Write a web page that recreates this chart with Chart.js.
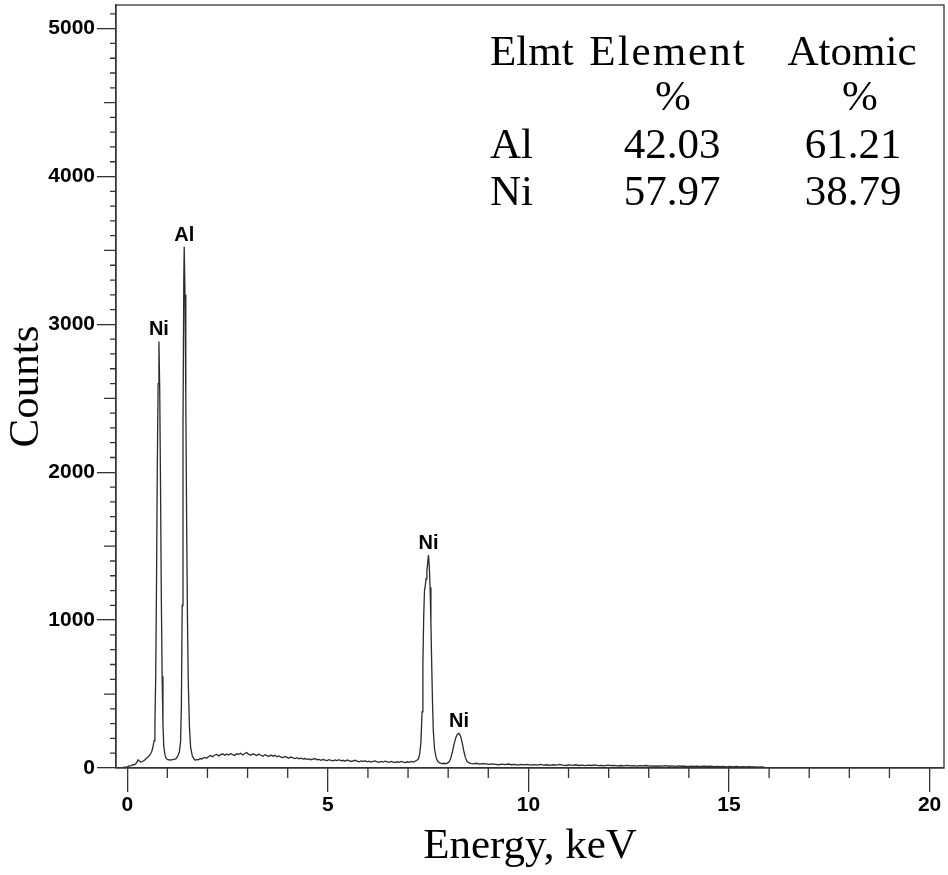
<!DOCTYPE html>
<html>
<head>
<meta charset="utf-8">
<title>EDS spectrum</title>
<script src="https://cdn.jsdelivr.net/npm/chart.js"></script>
<style>
  html, body { margin: 0; padding: 0; background: #fff; }
</style>
</head>
<body>
<canvas id="chart" width="948" height="875"></canvas>
<script>
// spectrum (keV, counts)
const energy = [
  -0.18, -0.12, -0.06, 0.00, 0.05, 0.10, 0.15, 0.20, 0.24, 0.27, 0.30, 0.34, 0.38, 0.43, 0.48, 0.53, 0.57, 0.61, 0.64, 0.67,
  0.69, 0.71, 0.73, 0.75, 0.77, 0.79, 0.81, 0.83, 0.85, 0.87, 0.89, 0.91, 0.94, 0.97, 1.01, 1.06, 1.11, 1.16, 1.21, 1.26,
  1.30, 1.33, 1.35, 1.37, 1.39, 1.41, 1.42, 1.44, 1.46, 1.48, 1.50, 1.52, 1.55, 1.58, 1.62, 1.66, 1.70, 1.74, 1.78, 1.82,
  1.86, 1.90, 1.94, 1.98, 2.03, 2.08, 2.13, 2.18, 2.23, 2.28, 2.33, 2.38, 2.43, 2.48, 2.53, 2.58, 2.63, 2.68, 2.73, 2.78,
  2.83, 2.88, 2.93, 2.98, 3.03, 3.08, 3.13, 3.18, 3.23, 3.28, 3.33, 3.38, 3.43, 3.48, 3.53, 3.58, 3.63, 3.68, 3.73, 3.78,
  3.83, 3.88, 3.93, 3.98, 4.03, 4.08, 4.13, 4.18, 4.23, 4.28, 4.33, 4.38, 4.43, 4.48, 4.53, 4.58, 4.63, 4.68, 4.73, 4.78,
  4.83, 4.88, 4.93, 4.98, 5.03, 5.08, 5.13, 5.18, 5.23, 5.28, 5.33, 5.38, 5.43, 5.48, 5.53, 5.58, 5.63, 5.68, 5.73, 5.78,
  5.83, 5.88, 5.93, 5.98, 6.03, 6.08, 6.13, 6.18, 6.23, 6.28, 6.33, 6.38, 6.43, 6.48, 6.53, 6.58, 6.63, 6.68, 6.73, 6.78,
  6.83, 6.88, 6.93, 6.98, 7.03, 7.08, 7.13, 7.18, 7.22, 7.26, 7.29, 7.32, 7.35, 7.37, 7.39, 7.41, 7.43, 7.45, 7.47, 7.49,
  7.51, 7.53, 7.55, 7.57, 7.59, 7.61, 7.63, 7.66, 7.70, 7.74, 7.79, 7.84, 7.89, 7.94, 7.99, 8.03, 8.07, 8.11, 8.15, 8.19,
  8.23, 8.27, 8.31, 8.35, 8.39, 8.43, 8.47, 8.52, 8.57, 8.63, 8.70, 8.78, 8.86, 8.94, 9.02, 9.10, 9.18, 9.26, 9.34, 9.42,
  9.50, 9.58, 9.66, 9.74, 9.82, 9.90, 9.98, 10.06, 10.14, 10.22, 10.30, 10.38, 10.46, 10.54, 10.62, 10.70, 10.78, 10.86, 10.94, 11.02,
  11.10, 11.18, 11.26, 11.34, 11.42, 11.50, 11.58, 11.66, 11.74, 11.82, 11.90, 11.98, 12.06, 12.14, 12.22, 12.30, 12.38, 12.46, 12.54, 12.62,
  12.70, 12.78, 12.86, 12.94, 13.02, 13.10, 13.18, 13.26, 13.34, 13.42, 13.50, 13.58, 13.66, 13.74, 13.82, 13.90, 13.98, 14.06, 14.14, 14.22,
  14.30, 14.38, 14.46, 14.54, 14.62, 14.70, 14.78, 14.86, 14.94, 15.02, 15.10, 15.18, 15.26, 15.34, 15.42, 15.50, 15.58, 15.66, 15.74, 15.82,
  15.88
];
const counts = [
  0, 3, 6, 8, 14, 16, 22, 24, 38, 55, 48, 40, 44, 52, 66, 78, 90, 112, 140, 185,
  290, 620, 1250, 2050, 2600, 2885, 2550, 1900, 1150, 620, 300, 150, 90, 65, 56, 54, 55, 58, 62, 80,
  110, 180, 420, 1100, 2300, 3300, 3525, 3200, 2500, 1700, 1050, 600, 280, 140, 85, 62, 52, 58, 55, 64,
  60, 68, 72, 66, 78, 84, 76, 88, 92, 82, 90, 96, 86, 94, 88, 98, 90, 84, 96, 92,
  100, 88, 98, 104, 92, 86, 96, 90, 84, 94, 86, 80, 90, 84, 78, 88, 80, 86, 76, 82,
  74, 70, 78, 72, 66, 74, 68, 64, 70, 62, 66, 60, 64, 58, 62, 56, 60, 64, 56, 58,
  52, 58, 54, 50, 56, 52, 48, 54, 50, 56, 48, 52, 46, 54, 50, 44, 48, 52, 46, 42,
  48, 44, 50, 42, 46, 40, 44, 48, 42, 38, 44, 40, 46, 42, 38, 44, 40, 36, 42, 38,
  44, 40, 36, 42, 38, 44, 40, 46, 52, 62, 95, 170, 380, 700, 1020, 1200, 1235, 1280, 1330, 1390,
  1440, 1360, 1220, 980, 700, 440, 250, 130, 70, 45, 34, 30, 32, 29, 34, 44, 70, 115, 165, 205,
  228, 234, 215, 170, 115, 70, 45, 34, 30, 28, 32, 26, 30, 28, 24, 28, 25, 22, 26, 23,
  27, 22, 25, 20, 24, 21, 25, 20, 23, 19, 24, 20, 22, 18, 22, 19, 24, 20, 17, 21,
  18, 22, 17, 20, 16, 19, 17, 21, 16, 18, 15, 19, 16, 18, 14, 17, 15, 18, 14, 16,
  13, 16, 14, 17, 13, 15, 12, 15, 13, 16, 12, 14, 11, 14, 12, 13, 10, 13, 11, 13,
  10, 12, 10, 12, 9, 11, 9, 11, 8, 10, 8, 10, 8, 9, 7, 9, 7, 8, 6, 7,
  6
];

// peak labels
const peakNames = ['Ni', 'Al', 'Ni', 'Ni'];
const peakEnergy = [0.79, 1.42, 7.51, 8.27];
const peakCounts = [2885, 3525, 1440, 234];

// quantification table
const tableHead = ['Elmt', 'Element', 'Atomic'];
const tableUnit = ['', '%', '%'];
const tableElements = ['Al', 'Ni'];
const elementPct = ['42.03', '57.97'];
const atomicPct = ['61.21', '38.79'];

// axis ticks
const xTicks = [0, 5, 10, 15, 20];
const yTicks = [0, 1000, 2000, 3000, 4000, 5000];

const INK = '#333';
const SERIF = "'Liberation Serif', 'Times New Roman', serif";
const SANS = "'Liberation Sans', Arial, sans-serif";

// minor ticks + closed frame
const framePlugin = {
  id: 'frame',
  afterDraw(chart) {
    const { ctx, chartArea: a, scales: { x, y } } = chart;
    ctx.save();
    ctx.strokeStyle = INK;
    ctx.lineWidth = 1.3;
    ctx.beginPath();
    for (let v = 1; v < 20; v++) {
      if (v % 5 === 0) continue;
      const px = x.getPixelForValue(v);
      ctx.moveTo(px, a.bottom);
      ctx.lineTo(px, a.bottom + 10);
    }
    for (let v = 100; v < 5160; v += 100) {
      if (v % 1000 === 0) continue;
      const len = v % 500 === 0 ? 12 : 6;
      const py = y.getPixelForValue(v);
      ctx.moveTo(a.left - len, py);
      ctx.lineTo(a.left, py);
    }
    ctx.stroke();
    ctx.strokeRect(a.left, a.top, a.right - a.left, a.bottom - a.top);
    ctx.restore();
  }
};

// peak names and the results table
const textPlugin = {
  id: 'texts',
  afterDatasetsDraw(chart) {
    const { ctx, scales: { x, y } } = chart;
    ctx.save();
    ctx.fillStyle = '#000';
    ctx.textAlign = 'center';
    ctx.textBaseline = 'alphabetic';
    ctx.font = 'bold 20px ' + SANS;
    peakNames.forEach((name, i) => {
      ctx.fillText(name, x.getPixelForValue(peakEnergy[i]), y.getPixelForValue(peakCounts[i]) - 6);
    });

    ctx.font = '43px ' + SERIF;
    const colX = [490, 668, 852];
    const rowY = [65, 110, 158, 205];
    ctx.textAlign = 'left';
    ctx.fillText(tableHead[0], colX[0], rowY[0]);
    ctx.textAlign = 'center';
    ctx.letterSpacing = '2px';
    ctx.fillText(tableHead[1], colX[1], rowY[0]);
    ctx.letterSpacing = '0px';
    ctx.fillText(tableHead[2], colX[2], rowY[0]);
    ctx.fillText(tableUnit[1], colX[1] + 5, rowY[1]);
    ctx.fillText(tableUnit[2], colX[2] + 8, rowY[1]);
    tableElements.forEach((el, i) => {
      ctx.textAlign = 'left';
      ctx.fillText(el, colX[0], rowY[2 + i]);
      ctx.textAlign = 'center';
      ctx.fillText(elementPct[i], colX[1] + 4, rowY[2 + i]);
      ctx.fillText(atomicPct[i], colX[2] + 1, rowY[2 + i]);
    });
    ctx.restore();
  }
};

new Chart(document.getElementById('chart'), {
  type: 'line',
  data: {
    datasets: [{
      data: energy.map((e, i) => ({ x: e, y: counts[i] })),
      borderColor: '#2b2b2b',
      borderWidth: 1.3,
      pointRadius: 0,
      tension: 0,
      fill: false
    }]
  },
  options: {
    responsive: false,
    animation: false,
    layout: { padding: { top: 5, right: 4, left: 0, bottom: 0 } },
    plugins: { legend: { display: false }, tooltip: { enabled: false } },
    scales: {
      x: {
        type: 'linear',
        min: -0.28,
        max: 20.36,
        afterFit: (s) => { s.height = 107; s.paddingLeft = 0; s.paddingRight = 0; },
        afterBuildTicks: (s) => { s.ticks = xTicks.map((v) => ({ value: v })); },
        ticks: { color: '#000', font: { family: SANS, size: 21, weight: 'bold' }, padding: 1, maxRotation: 0, callback: (v) => String(v) },
        grid: { drawOnChartArea: false, tickLength: 24, color: INK, lineWidth: 1.3 },
        border: { color: INK, width: 1.3 },
        title: { display: true, text: 'Energy, keV', color: '#000', font: { family: SERIF, size: 43 }, padding: { top: 0, bottom: 2 } }
      },
      y: {
        min: 0,
        max: 5160,
        afterFit: (s) => { s.width = 116; s.paddingTop = 0; s.paddingBottom = 0; },
        afterBuildTicks: (s) => { s.ticks = yTicks.map((v) => ({ value: v })); },
        ticks: { color: '#000', font: { family: SANS, size: 21, weight: 'bold' }, padding: 2, callback: (v) => String(v) },
        grid: { drawOnChartArea: false, tickLength: 19, color: INK, lineWidth: 1.3 },
        border: { color: INK, width: 1.3 },
        title: { display: true, text: 'Counts', color: '#000', font: { family: SERIF, size: 43 }, padding: { top: 1, bottom: 0 } }
      }
    }
  },
  plugins: [framePlugin, textPlugin]
});
</script>
</body>
</html>
